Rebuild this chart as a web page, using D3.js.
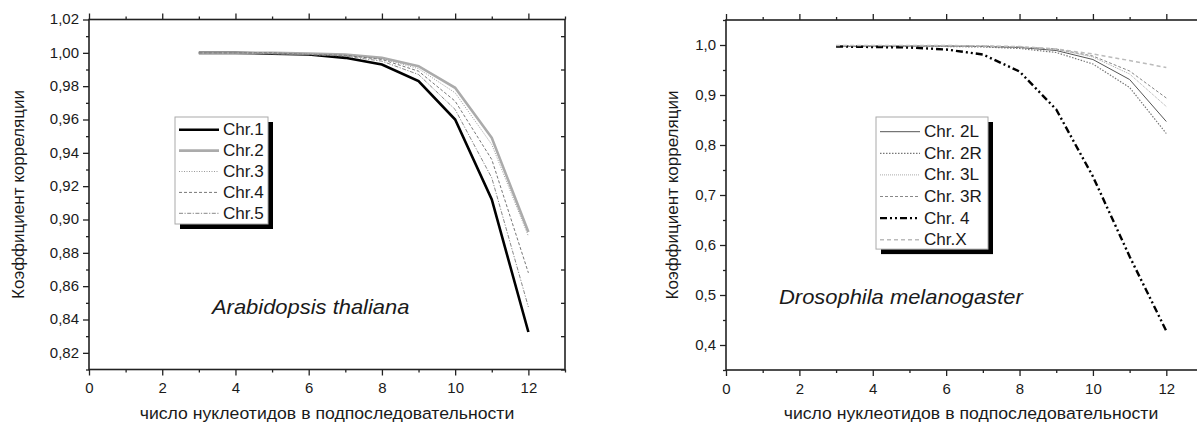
<!DOCTYPE html>
<html>
<head>
<meta charset="utf-8">
<script src="https://cdn.jsdelivr.net/npm/d3@7"></script>
<style>
  body { margin: 0; background: #fff; overflow: hidden; }
  svg { display: block; font-family: "Liberation Sans", Arial, sans-serif; }
</style>
</head>
<body>
<svg id="chart" width="1197" height="423"></svg>
<script>
// data
var nucleotides = [3, 4, 5, 6, 7, 8, 9, 10, 11, 12];

var arabidopsisNames = ["Chr.1", "Chr.2", "Chr.3", "Chr.4", "Chr.5"];
var arChr1 = [1.000, 1.000, 0.9995, 0.9990, 0.9970, 0.9930, 0.9830, 0.9600, 0.9120, 0.8325];
var arChr2 = [1.000, 1.000, 1.000, 0.9995, 0.9990, 0.9970, 0.9920, 0.9790, 0.9490, 0.8925];
var arChr3 = [1.000, 1.000, 1.000, 0.9995, 0.9985, 0.9965, 0.9905, 0.9760, 0.9450, 0.8900];
var arChr4 = [1.000, 1.000, 1.000, 0.9990, 0.9985, 0.9960, 0.9890, 0.9710, 0.9360, 0.8680];
var arChr5 = [1.000, 1.000, 0.9995, 0.9990, 0.9980, 0.9950, 0.9870, 0.9660, 0.9250, 0.8475];

var drosophilaNames = ["Chr. 2L", "Chr. 2R", "Chr. 3L", "Chr. 3R", "Chr. 4", "Chr.X"];
var drChr2L = [0.997, 0.998, 0.998, 0.998, 0.997, 0.995, 0.989, 0.971, 0.931, 0.847];
var drChr2R = [0.997, 0.997, 0.997, 0.997, 0.996, 0.993, 0.985, 0.962, 0.915, 0.823];
var drChr3L = [0.998, 0.998, 0.998, 0.998, 0.998, 0.996, 0.991, 0.976, 0.942, 0.877];
var drChr3R = [0.998, 0.998, 0.998, 0.998, 0.998, 0.996, 0.992, 0.978, 0.948, 0.894];
var drChr4  = [0.997, 0.996, 0.995, 0.991, 0.981, 0.947, 0.871, 0.737, 0.577, 0.428];
var drChrX  = [0.999, 0.999, 0.999, 0.999, 0.998, 0.997, 0.992, 0.982, 0.969, 0.955];

var xTicksMajor = [0, 2, 4, 6, 8, 10, 12];
var xTicksMinor = [1, 3, 5, 7, 9, 11, 13];
var arYTicks = [0.82, 0.84, 0.86, 0.88, 0.90, 0.92, 0.94, 0.96, 0.98, 1.00, 1.02];
var arYMinor = [0.81, 0.83, 0.85, 0.87, 0.89, 0.91, 0.93, 0.95, 0.97, 0.99, 1.01];
var drYTicks = [0.4, 0.5, 0.6, 0.7, 0.8, 0.9, 1.0];
var drYMinor = [0.35, 0.45, 0.55, 0.65, 0.75, 0.85, 0.95, 1.05];

var yTitle = "Коэффициент корреляции";
var xTitle = "число нуклеотидов в подпоследовательности";

var SX = 1.07; // the scan is a bit wider than tall

var svg = d3.select("#chart");

function stretch(sel) {
	sel.each(function () {
		var t = d3.select(this);
		var x = +t.attr("x") || 0;
		t.attr("transform", "translate(" + x + ",0) scale(" + SX + ",1) translate(" + (-x) + ",0)");
	});
}

function label(g, x, y, str, size, anchor, italic) {
	var t = g.append("text")
		.attr("x", x).attr("y", y)
		.attr("text-anchor", anchor)
		.attr("font-size", size)
		.attr("fill", "#1a1a1a")
		.attr("font-style", italic ? "italic" : "normal")
		.text(str);
	stretch(t);
	return t;
}

function comma(fmt) {
	var f = d3.format(fmt);
	return function (d) { return f(d).replace(".", ","); };
}

function drawPanel(opt) {
	var g = svg.append("g");
	var x = d3.scaleLinear().domain([0, 13]).range([opt.left, opt.right]);
	var y = d3.scaleLinear().domain(opt.yDomain).range([opt.bottom, opt.top]);

	// axes
	var bottom = g.append("g").attr("transform", "translate(0," + opt.bottom + ")")
		.call(d3.axisBottom(x).tickValues(xTicksMajor).tickSize(6).tickSizeOuter(0).tickPadding(8).tickFormat(d3.format("d")));
	g.append("g").attr("transform", "translate(0," + opt.bottom + ")")
		.call(d3.axisBottom(x).tickValues(xTicksMinor).tickSize(3).tickSizeOuter(0).tickFormat(""));
	g.append("g").attr("transform", "translate(0," + opt.top + ")")
		.call(d3.axisTop(x).tickValues(xTicksMajor).tickSize(6).tickSizeOuter(0).tickFormat(""));
	g.append("g").attr("transform", "translate(0," + opt.top + ")")
		.call(d3.axisTop(x).tickValues(xTicksMinor).tickSize(3).tickSizeOuter(0).tickFormat(""));
	var left = g.append("g").attr("transform", "translate(" + opt.left + ",0)")
		.call(d3.axisLeft(y).tickValues(opt.yTicks).tickSize(6).tickSizeOuter(0).tickPadding(4).tickFormat(comma(opt.yFmt)));
	g.append("g").attr("transform", "translate(" + opt.left + ",0)")
		.call(d3.axisLeft(y).tickValues(opt.yMinor).tickSize(3).tickSizeOuter(0).tickFormat(""));
	g.append("g").attr("transform", "translate(" + opt.right + ",0)")
		.call(d3.axisRight(y).tickValues(opt.yMinor).tickSize(-4).tickSizeOuter(0).tickFormat(""));

	g.selectAll(".domain").remove();
	g.selectAll(".tick line").attr("stroke", "#222").attr("stroke-width", 1.3);
	g.selectAll(".tick text").attr("font-size", 14).attr("fill", "#1a1a1a")
		.attr("font-family", "'Liberation Sans', Arial, sans-serif");
	stretch(left.selectAll(".tick text"));
	stretch(bottom.selectAll(".tick text"));

	g.append("rect")
		.attr("x", opt.left).attr("y", opt.top)
		.attr("width", opt.right - opt.left).attr("height", opt.bottom - opt.top)
		.attr("fill", "none").attr("stroke", "#222").attr("stroke-width", 1.6);

	// curves
	var line = d3.line()
		.x(function (d, i) { return x(nucleotides[i]); })
		.y(function (d) { return y(d); });

	opt.series.forEach(function (s) {
		g.append("path")
			.datum(s.values)
			.attr("d", line)
			.attr("fill", "none")
			.attr("stroke", s.color)
			.attr("stroke-width", s.width)
			.attr("stroke-dasharray", s.dash);
	});

	// legend
	var lg = opt.legend;
	var h = opt.series.length * lg.step + lg.pad;
	g.append("rect").attr("x", lg.x + 5).attr("y", lg.y + 5).attr("width", lg.w).attr("height", h).attr("fill", "#000");
	g.append("rect").attr("x", lg.x).attr("y", lg.y).attr("width", lg.w).attr("height", h)
		.attr("fill", "#fff").attr("stroke", "#aaa").attr("stroke-width", 1);
	opt.series.forEach(function (s, i) {
		var yy = lg.y + lg.first + i * lg.step;
		g.append("line")
			.attr("x1", lg.x + 4).attr("x2", lg.x + 44)
			.attr("y1", yy).attr("y2", yy)
			.attr("stroke", s.color).attr("stroke-width", s.width)
			.attr("stroke-dasharray", s.dash);
		label(g, lg.x + 48, yy + 5.5, s.name, 16, "start", false);
	});

	// titles
	label(g, opt.species[0], opt.species[1], opt.species[2], 20.5, "start", true);
	label(g, opt.xTitleX, 419, xTitle, 16.5, "middle", false);
	g.append("text")
		.attr("transform", "translate(" + opt.yTitleX + "," + ((opt.top + opt.bottom) / 2) + ") rotate(-90)")
		.attr("text-anchor", "middle")
		.attr("font-size", 17)
		.attr("fill", "#1a1a1a")
		.text(yTitle);
}

drawPanel({
	left: 89, right: 565, top: 19.5, bottom: 369.5,
	yDomain: [0.81, 1.02], yTicks: arYTicks, yMinor: arYMinor, yFmt: ".2f",
	series: [
		{ name: arabidopsisNames[0], values: arChr1, color: "#000", width: 2.6, dash: null },
		{ name: arabidopsisNames[1], values: arChr2, color: "#ababab", width: 2.6, dash: null },
		{ name: arabidopsisNames[2], values: arChr3, color: "#999", width: 1, dash: "1,1.5" },
		{ name: arabidopsisNames[3], values: arChr4, color: "#777", width: 1, dash: "3,2" },
		{ name: arabidopsisNames[4], values: arChr5, color: "#888", width: 1, dash: "4,1.5,1.2,1.5" }
	],
	legend: { x: 175, y: 117, w: 93, step: 20.9, first: 12.7, pad: 2.5 },
	species: [212, 314, "Arabidopsis thaliana"],
	xTitleX: 327, yTitleX: 24
});

drawPanel({
	left: 726, right: 1203, top: 20, bottom: 370,
	yDomain: [0.35, 1.05], yTicks: drYTicks, yMinor: drYMinor, yFmt: ".1f",
	series: [
		{ name: drosophilaNames[0], values: drChr2L, color: "#555", width: 1, dash: null },
		{ name: drosophilaNames[1], values: drChr2R, color: "#777", width: 1.2, dash: "1.5,1.5" },
		{ name: drosophilaNames[2], values: drChr3L, color: "#aaa", width: 1, dash: "1,1" },
		{ name: drosophilaNames[3], values: drChr3R, color: "#888", width: 1, dash: "3,2" },
		{ name: drosophilaNames[4], values: drChr4, color: "#000", width: 2.4, dash: "7,3,2,3,2,3" },
		{ name: drosophilaNames[5], values: drChrX, color: "#bbb", width: 1.5, dash: "4,3" }
	],
	legend: { x: 876, y: 117, w: 112, step: 21.6, first: 14.7, pad: 2.5 },
	species: [779, 304, "Drosophila melanogaster"],
	xTitleX: 971, yTitleX: 678
});
</script>
</body>
</html>
